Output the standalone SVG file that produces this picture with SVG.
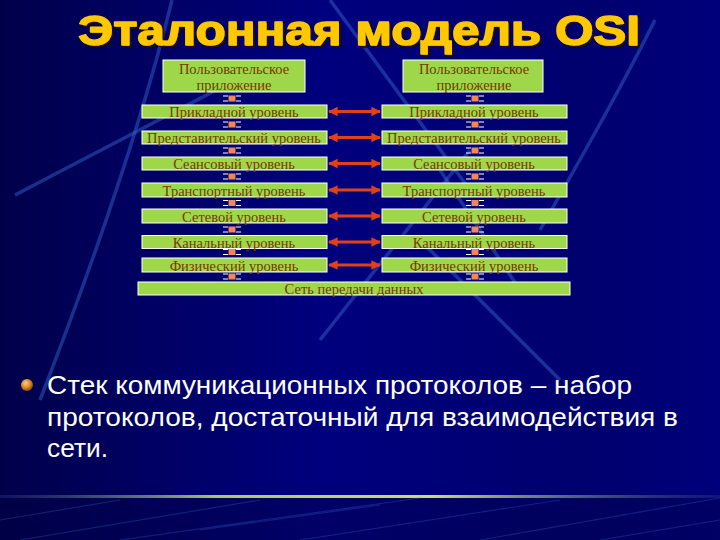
<svg xmlns="http://www.w3.org/2000/svg" width="720" height="540" viewBox="0 0 720 540">
<defs>
<linearGradient id="bg" x1="0" y1="0" x2="1" y2="0">
<stop offset="0" stop-color="#00004a"/>
<stop offset="0.2" stop-color="#000062"/>
<stop offset="0.45" stop-color="#00007e"/>
<stop offset="0.8" stop-color="#00006e"/>
<stop offset="1" stop-color="#00007a"/>
</linearGradient>
<linearGradient id="hl" x1="0" y1="0" x2="1" y2="0">
<stop offset="0" stop-color="#2a4a9a" stop-opacity="0.3"/>
<stop offset="0.3" stop-color="#a8c868"/>
<stop offset="0.6" stop-color="#c8e070"/>
<stop offset="1" stop-color="#2a4a9a" stop-opacity="0.3"/>
</linearGradient>
<radialGradient id="bul" cx="0.4" cy="0.35" r="0.7">
<stop offset="0" stop-color="#ffd080"/>
<stop offset="0.6" stop-color="#d08020"/>
<stop offset="1" stop-color="#704010"/>
</radialGradient>
<filter id="sh" x="-5%" y="-20%" width="110%" height="150%">
<feDropShadow dx="2" dy="2" stdDeviation="0.6" flood-color="#1a1000" flood-opacity="0.9"/>
</filter>
<marker id="ah" viewBox="0 0 10 10" refX="9" refY="5" markerWidth="3.2" markerHeight="3.2" orient="auto-start-reverse" markerUnits="strokeWidth">
<path d="M0,0 L10,5 L0,10 Z" fill="#e0401a"/>
</marker>
<g id="vc">
<rect x="-3.5" y="0" width="7" height="6" fill="#f4845a"/>
<path d="M-9,0.5 H-4 M4,0.5 H9 M-9,5.5 H-4 M4,5.5 H9" stroke="#ffffff" stroke-width="1"/>
</g>
</defs>
<style>
.box{fill:#9ed84a;stroke:#ffffff;stroke-width:1}
.bt{font-family:"Liberation Serif","Times New Roman",serif;font-size:14.5px;fill:#7a3600;text-anchor:middle}
.arr{stroke:#e0401a;stroke-width:3;fill:none}
.bgl{stroke:#3a6ad0;stroke-opacity:0.45;fill:none;stroke-width:3.5}
.bgt{stroke:#3a6ad0;stroke-opacity:0.3;fill:none;stroke-width:1.2}
</style>
<rect width="720" height="540" fill="url(#bg)"/>
<rect y="497" width="720" height="43" fill="#000040" opacity="0.35"/>
<!-- background lines -->
<path class="bgl" d="M172,0 C150,90 110,220 40,400"/>
<path class="bgl" d="M15,195 L270,62"/>
<path class="bgl" d="M655,20 C620,90 580,160 540,230"/>
<path class="bgl" d="M330,0 L470,190"/>
<path class="bgl" d="M470,150 L320,340"/>
<path class="bgl" d="M440,170 L520,290"/>
<path class="bgl" d="M420,240 L560,380" stroke-opacity="0.25"/>
<rect x="0" y="495" width="720" height="3" fill="url(#hl)"/>
<path class="bgt" d="M20,540 L260,500 M120,540 L420,498 M300,540 L560,500 M480,540 L720,498 M0,520 L120,500 M600,540 L720,520 M200,530 L380,505"/>
<!-- title -->
<text x="78" y="45" font-family="Liberation Sans,Arial,sans-serif" font-weight="bold" font-size="42" fill="#ffc800" stroke="#ffc800" stroke-width="1.4" stroke-linejoin="round" filter="url(#sh)" textLength="562" lengthAdjust="spacingAndGlyphs">Эталонная модель OSI</text>
<!-- connectors -->
<g id="connectors">
<line class="arr" x1="329" y1="111.5" x2="380" y2="111.5" marker-start="url(#ah)" marker-end="url(#ah)"/>
<line class="arr" x1="329" y1="137.5" x2="380" y2="137.5" marker-start="url(#ah)" marker-end="url(#ah)"/>
<line class="arr" x1="329" y1="163.5" x2="380" y2="163.5" marker-start="url(#ah)" marker-end="url(#ah)"/>
<line class="arr" x1="329" y1="190" x2="380" y2="190" marker-start="url(#ah)" marker-end="url(#ah)"/>
<line class="arr" x1="329" y1="216" x2="380" y2="216" marker-start="url(#ah)" marker-end="url(#ah)"/>
<line class="arr" x1="329" y1="242" x2="380" y2="242" marker-start="url(#ah)" marker-end="url(#ah)"/>
<line class="arr" x1="329" y1="265" x2="380" y2="265" marker-start="url(#ah)" marker-end="url(#ah)"/>
<use href="#vc" x="232" y="95.5"/><use href="#vc" x="475" y="95.5"/>
<use href="#vc" x="232" y="121.5"/><use href="#vc" x="475" y="121.5"/>
<use href="#vc" x="232" y="147.5"/><use href="#vc" x="475" y="147.5"/>
<use href="#vc" x="232" y="173.5"/><use href="#vc" x="475" y="173.5"/>
<use href="#vc" x="232" y="200"/><use href="#vc" x="475" y="200"/>
<use href="#vc" x="232" y="226.5"/><use href="#vc" x="475" y="226.5"/>
<use href="#vc" x="232" y="249"/><use href="#vc" x="475" y="249"/>
<use href="#vc" x="232" y="273.5"/><use href="#vc" x="475" y="273.5"/>
</g>
<!-- left stack -->
<g id="l-app"><rect class="box" x="163" y="60" width="142" height="32"/><text class="bt" x="234" y="74">Пользовательское</text><text class="bt" x="234" y="90">приложение</text></g>
<g id="l7"><rect class="box" x="142" y="105" width="185" height="13"/><text class="bt" x="234" y="117">Прикладной уровень</text></g>
<g id="l6"><rect class="box" x="142" y="131" width="185" height="13"/><text class="bt" x="234" y="143">Представительский уровень</text></g>
<g id="l5"><rect class="box" x="142" y="157" width="185" height="13"/><text class="bt" x="234" y="169">Сеансовый уровень</text></g>
<g id="l4"><rect class="box" x="142" y="183" width="185" height="14"/><text class="bt" x="234" y="195.5">Транспортный уровень</text></g>
<g id="l3"><rect class="box" x="142" y="209" width="185" height="14"/><text class="bt" x="234" y="221.5">Сетевой уровень</text></g>
<g id="l2"><rect class="box" x="142" y="235.5" width="185" height="13"/><text class="bt" x="234" y="247.5">Канальный уровень</text></g>
<g id="l1"><rect class="box" x="142" y="258" width="185" height="14"/><text class="bt" x="234" y="270.5">Физический уровень</text></g>
<!-- right stack -->
<g id="r-app"><rect class="box" x="403" y="60" width="140" height="32"/><text class="bt" x="474" y="74">Пользовательское</text><text class="bt" x="474" y="90">приложение</text></g>
<g id="r7"><rect class="box" x="382" y="105" width="185" height="13"/><text class="bt" x="474" y="117">Прикладной уровень</text></g>
<g id="r6"><rect class="box" x="382" y="131" width="185" height="13"/><text class="bt" x="474" y="143">Представительский уровень</text></g>
<g id="r5"><rect class="box" x="382" y="157" width="185" height="13"/><text class="bt" x="474" y="169">Сеансовый уровень</text></g>
<g id="r4"><rect class="box" x="382" y="183" width="185" height="14"/><text class="bt" x="474" y="195.5">Транспортный уровень</text></g>
<g id="r3"><rect class="box" x="382" y="209" width="185" height="14"/><text class="bt" x="474" y="221.5">Сетевой уровень</text></g>
<g id="r2"><rect class="box" x="382" y="235.5" width="185" height="13"/><text class="bt" x="474" y="247.5">Канальный уровень</text></g>
<g id="r1"><rect class="box" x="382" y="258" width="185" height="14"/><text class="bt" x="474" y="270.5">Физический уровень</text></g>
<g id="net"><rect class="box" x="138" y="282" width="432" height="13"/><text class="bt" x="354" y="294">Сеть передачи данных</text></g>
<!-- body text -->
<circle cx="27" cy="385" r="6" fill="url(#bul)"/>
<g font-family="Liberation Sans,Arial,sans-serif" font-size="26" fill="#ffffff">
<text x="47" y="394" textLength="585" lengthAdjust="spacingAndGlyphs">Стек коммуникационных протоколов – набор</text>
<text x="47" y="426" textLength="631" lengthAdjust="spacingAndGlyphs">протоколов, достаточный для взаимодействия в</text>
<text x="47" y="457" textLength="61" lengthAdjust="spacingAndGlyphs">сети.</text>
</g>
</svg>
